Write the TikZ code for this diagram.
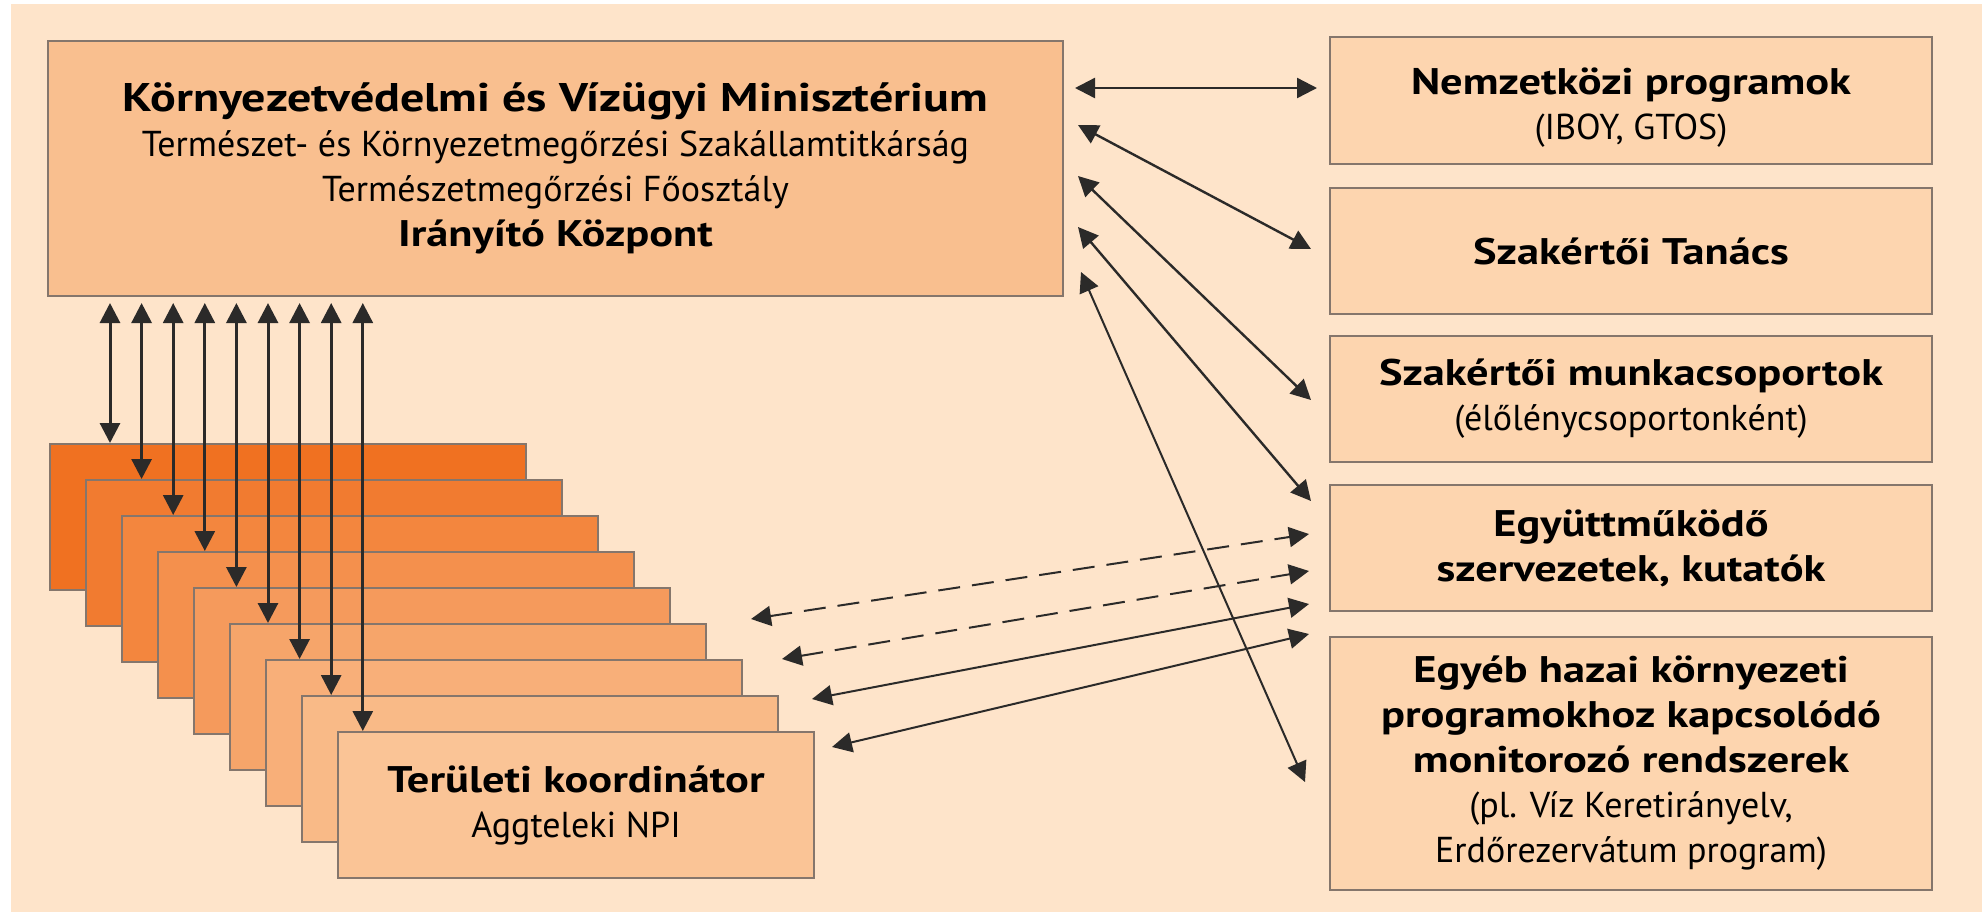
\documentclass[tikz,border=0pt]{standalone}
\usepackage{fontspec}
\setmainfont{PT Sans}[BoldFeatures={FakeStretch=1.2}]
\usetikzlibrary{arrows.meta,calc}
\definecolor{bgc}{HTML}{FEE4CA}
\definecolor{mainc}{HTML}{F9BF8F}
\definecolor{rightc}{HTML}{FDD5AF}
\definecolor{darkst}{HTML}{F07121}
\definecolor{lightst}{HTML}{FAC496}
\definecolor{bordc}{HTML}{85766C}
\definecolor{arrc}{HTML}{2B2A29}
\newcommand{\bt}[1]{{\fontsize{18.5}{22.5}\selectfont\bfseries #1}}
\tikzset{
  box/.style={draw=bordc, line width=1pt, inner sep=0pt, align=center,
    font=\fontsize{18}{22.5}\selectfont},
  plain/.style={inner sep=0pt, align=center, font=\fontsize{18}{22.5}\selectfont},
  dbl/.style={arrc, {Triangle[length=10pt,width=10pt]}-{Triangle[length=10pt,width=10pt]}},
  vline/.style={dbl, line width=1.5pt},
  dline/.style={dbl, line width=1.2pt},
  lline/.style={dbl, line width=1pt},
  dashline/.style={dbl, line width=1pt, dash pattern=on 11pt off 6pt}
}
\begin{document}
\begin{tikzpicture}[x=0.5pt,y=-0.5pt]
\useasboundingbox (0,0) rectangle (1982,912);
\fill[white] (0,0) rectangle (1982,912);
\fill[bgc] (11,4) rectangle (1982,912);

% main box
\node[box, fill=mainc, minimum width=507.5pt, minimum height=127.5pt] (kvm) at (555.5,168.5)
 {{\fontsize{20}{22.5}\selectfont\bfseries Környezetvédelmi és Vízügyi Minisztérium}\\
  Természet- és Környezetmegőrzési Szakállamtitkárság\\
  Természetmegőrzési Főosztály\\
  \bt{Irányító Központ}};

% right boxes
\node[box, fill=rightc, minimum width=301pt, minimum height=63.5pt] (r1) at (1631,100.5) {};
\node[plain] (r1t) at ($(r1.center)+(0,7)$) {\bt{Nemzetközi programok}\\(IBOY, GTOS)};
\node[box, fill=rightc, minimum width=301pt, minimum height=63pt] (r2) at (1631,251)
 {\bt{Szakértői Tanács}};
\node[box, fill=rightc, minimum width=301pt, minimum height=63pt] (r3) at (1631,399)
 {\bt{Szakértői munkacsoportok}\\(élőlénycsoportonként)};
\node[box, fill=rightc, minimum width=301pt, minimum height=63pt] (r4) at (1631,548)
 {\bt{Együttműködő}\\\bt{szervezetek, kutatók}};
\node[box, fill=rightc, minimum width=301pt, minimum height=126.5pt] (r5) at (1631,763.5)
 {\bt{Egyéb hazai környezeti}\\\bt{programokhoz kapcsolódó}\\\bt{monitorozó rendszerek}\\
  (pl. Víz Keretirányelv,\\Erdőrezervátum program)};

% stack of regional boxes
\foreach \k in {0,...,7}{
  \pgfmathsetmacro{\p}{100-12.5*\k}
  \node[box, fill=darkst!\p!lightst, minimum width=238pt, minimum height=73pt]
    (s\k) at ({288+36*\k},{517+36*\k}) {};
}
\node[box, fill=lightst, minimum width=238pt, minimum height=73pt] (s8) at (576,805)
 {\bt{Területi koordinátor}\\Aggteleki NPI};

% vertical arrows
\foreach \k in {0,...,8}{
  \coordinate (v\k) at ($(kvm.south west)+({63+31.6*\k},6)$);
  \draw[vline] (v\k) -- (v\k |- s\k.north);
}

% arrows from the ministry to right boxes
\draw[dline] ($(kvm.north east)+(11,48)$) -- ($(r1.north west)+(-12,52)$);
\draw[dline] ($(kvm.north east)+(14,85)$) -- ($(r2.west)+(-18,-2)$);
\draw[dline] ($(kvm.north east)+(14,136)$) -- ($(r3.west)+(-18,1)$);
\draw[dline] ($(kvm.north east)+(14,187)$) -- ($(r4.north west)+(-18,17)$);
\draw[lline] ($(kvm.north east)+(17,232)$) -- ($(r5.north west)+(-24,146)$);

% arrows from the regional stack
\coordinate (d1) at ($(s5.north east)+(44,-4)$);
\coordinate (d2) at ($(s6.north east)+(39,0)$);
\coordinate (d3) at ($(s7.north east)+(33,4)$);
\coordinate (d4) at ($(s8.north east)+(17,16)$);
\draw[dashline] (d1) -- ($(r4.north west)+(-20,50)$);
\draw[dashline] (d2) -- ($(r4.north west)+(-20,87)$);
\draw[lline] (d3) -- ($(r4.north west)+(-20,120)$);
\draw[lline] (d4) -- ($(r4.north west)+(-20,150)$);
\end{tikzpicture}
\end{document}
